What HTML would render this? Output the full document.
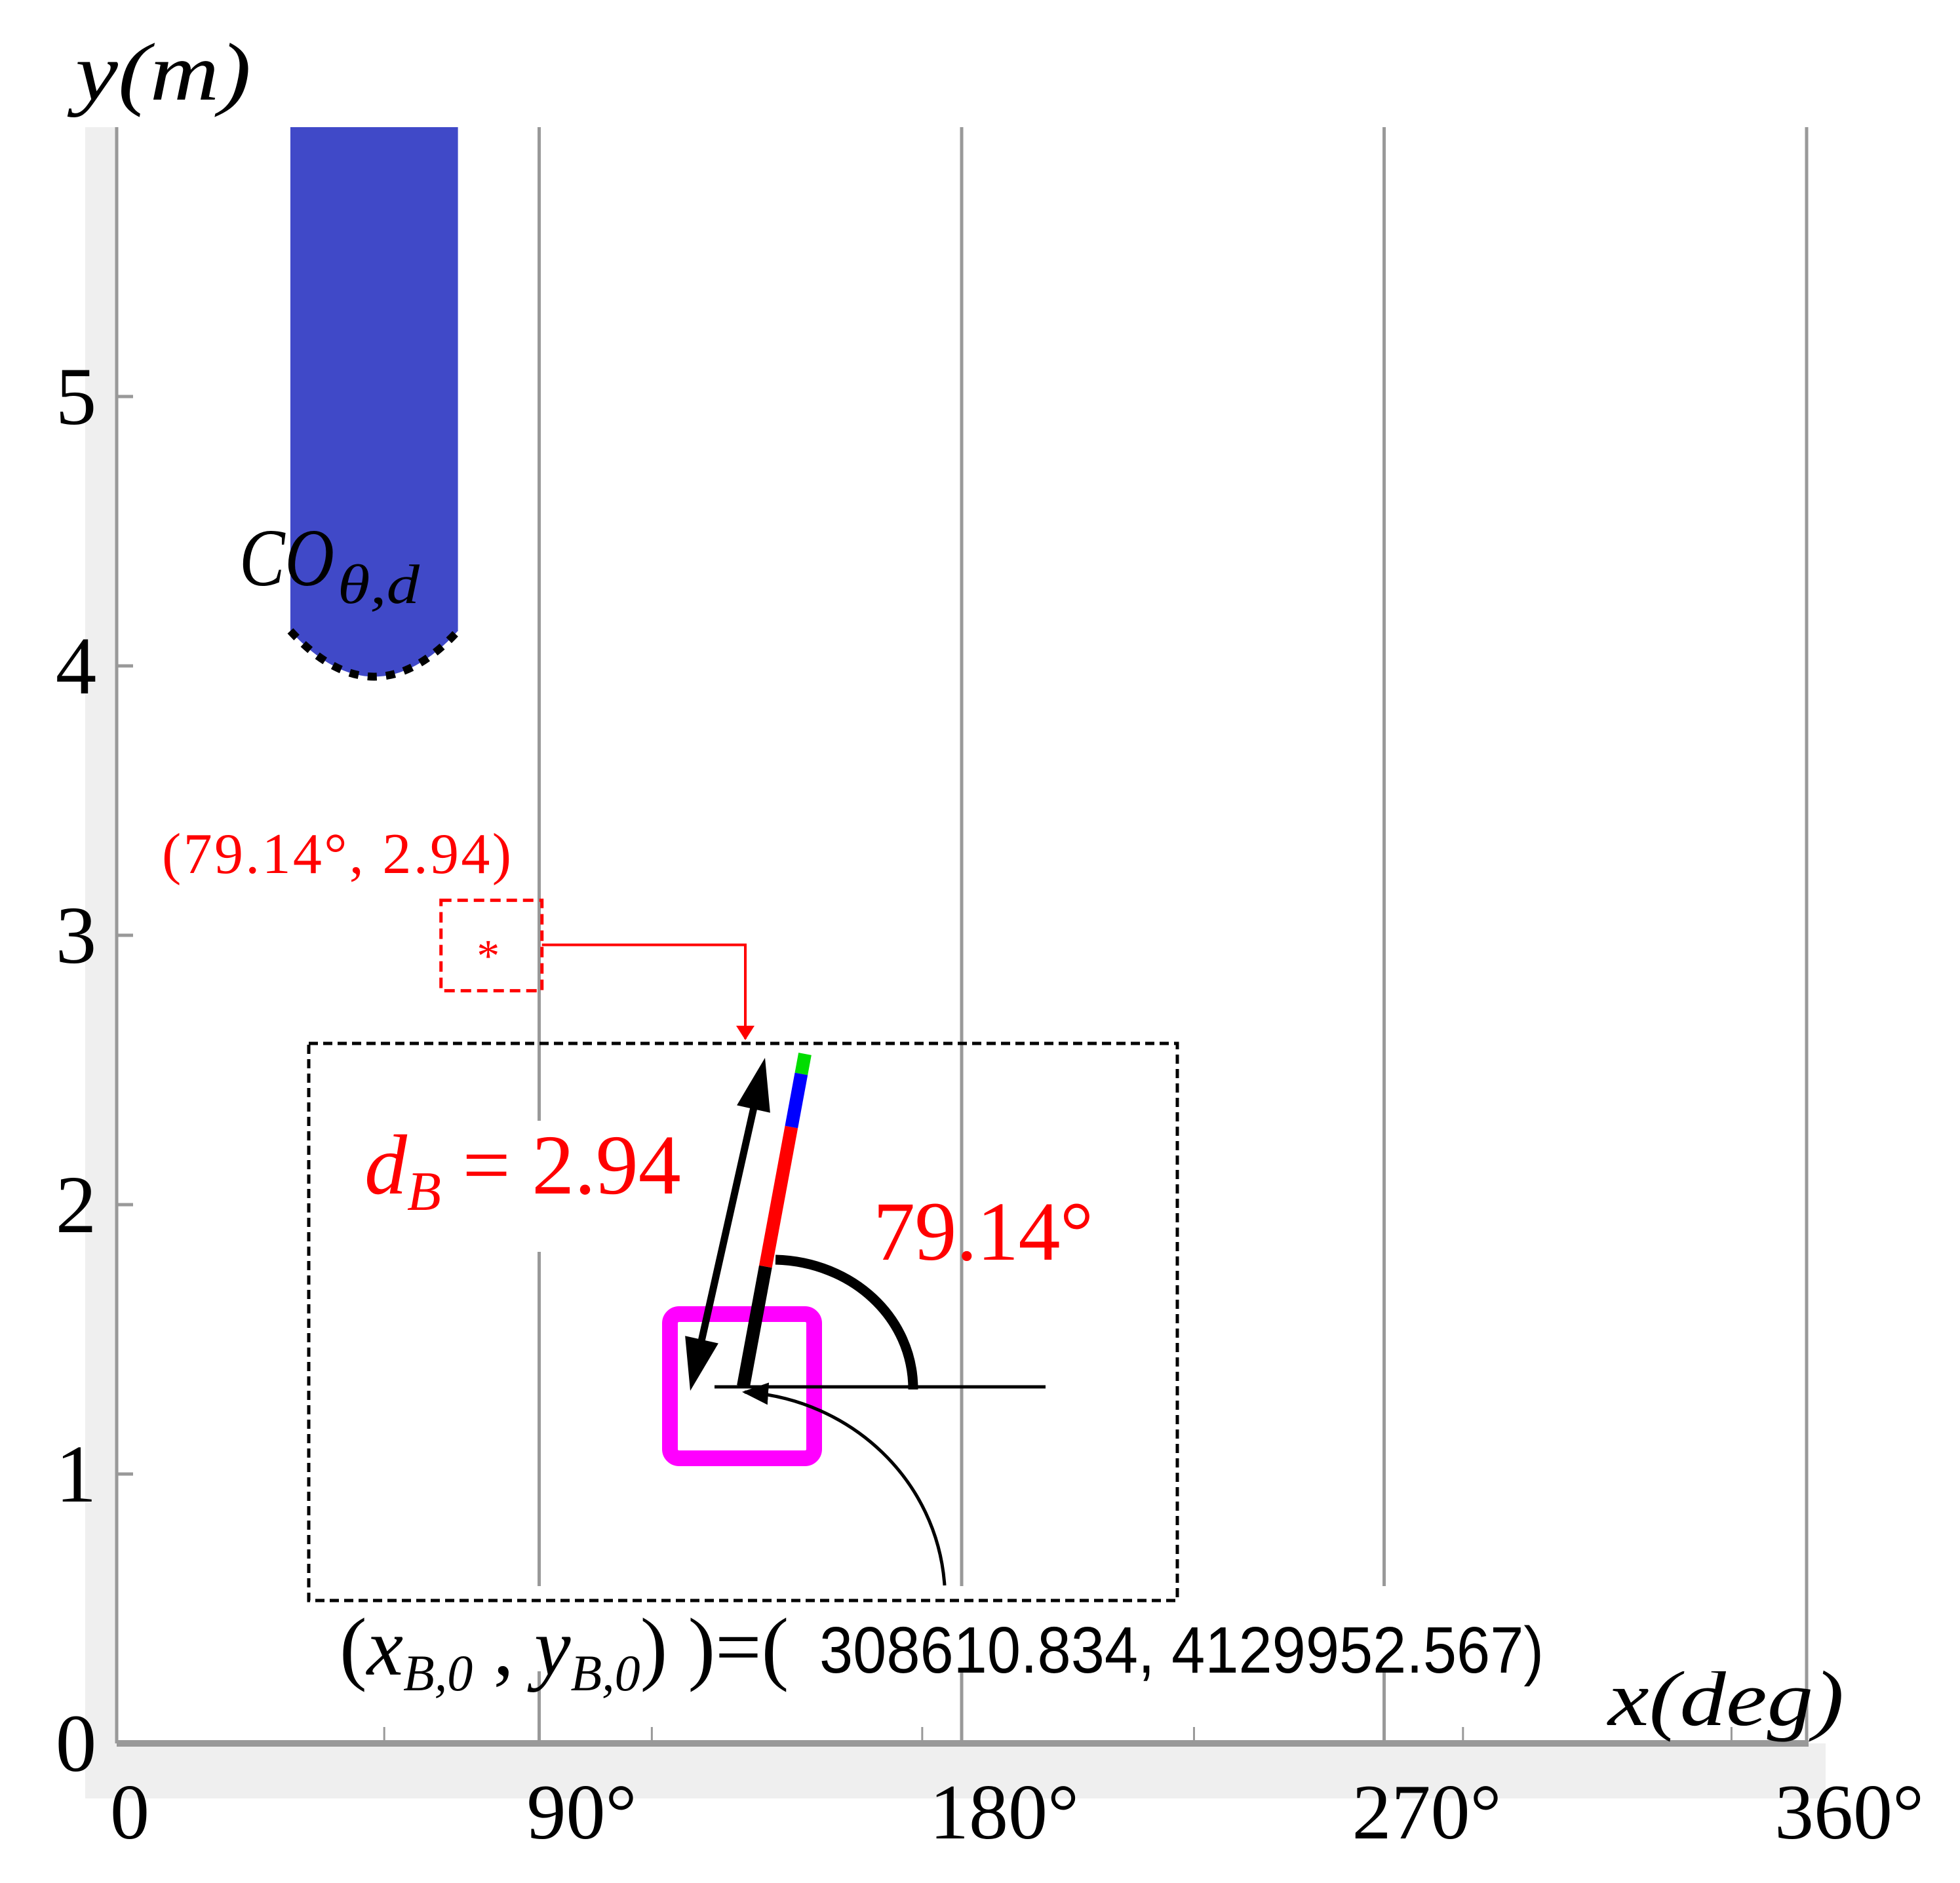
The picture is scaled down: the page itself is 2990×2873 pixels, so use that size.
<!DOCTYPE html>
<html><head><meta charset="utf-8"><style>
html,body{margin:0;padding:0;background:#fff;}
svg{display:block;}
text{font-family:"Liberation Serif","DejaVu Serif",serif;}
text.sans{font-family:"Liberation Sans Narrow","Liberation Sans",sans-serif;}
</style></head><body>
<svg id="chart" width="2990" height="2873" viewBox="0 0 2990 2873" xmlns="http://www.w3.org/2000/svg">
<defs>
<marker id="ahr" markerWidth="22" markerHeight="28" refX="20" refY="14" orient="auto" markerUnits="userSpaceOnUse"><path d="M0,0 L22,14 L0,28 Z" fill="#f00"/></marker>
<marker id="ahs" markerWidth="40" markerHeight="34" refX="36" refY="17" orient="auto" markerUnits="userSpaceOnUse"><path d="M0,0 L40,17 L0,34 Z" fill="#000"/></marker>
</defs>
<g id="bg">
<rect x="130" y="194" width="48" height="2550" fill="#efefef"/>
<rect x="130" y="2660" width="2655" height="84" fill="#efefef"/>
<rect x="178" y="194" width="2595" height="2466" fill="#fff"/>
</g>
<g id="grid"></g>
<g id="axes"></g>
<g id="marks"></g>
</svg>
<script>
const xTicks = [0, 90, 180, 270, 360];
const xTickLabels = ["0", "90°", "180°", "270°", "360°"];
const xMinorTicks = [57, 114, 171.6, 229.5, 286.8, 344];
const yTicks = [0, 1, 2, 3, 4, 5];
const yTickLabels = ["0", "1", "2", "3", "4", "5"];
const pointX = [79.14];
const pointY = [2.94];
const obstacleX = [37, 72.7];
const obstacleY = [4.13, 3.96, 6];

const NS = "http://www.w3.org/2000/svg";
const X0 = 178, X1 = 2756, Y0 = 2660, Y1 = 194;
const sx = v => X0 + (v / 360) * (X1 - X0);
const sy = v => Y0 - (v / 6) * (Y0 - Y1);
function mk(tag, attrs, parent, txt) {
  const e = document.createElementNS(NS, tag);
  for (const k in attrs) e.setAttribute(k, attrs[k]);
  if (txt !== undefined) e.textContent = txt;
  parent.appendChild(e);
  return e;
}
const grid = document.getElementById("grid");
const axes = document.getElementById("axes");
const marks = document.getElementById("marks");

xTicks.slice(1).forEach((t) => {
  const l = mk("line", {x1: sx(t), x2: sx(t), y1: Y1, y2: Y0, stroke: "#999", "stroke-width": 5}, grid);
  
  
});
let la = mk("line", {x1: X0, x2: X0, y1: Y1, y2: Y0, stroke: "#999", "stroke-width": 5}, axes);


let ba = mk("line", {x1: X0, x2: X1 + 3, y1: Y0, y2: Y0, stroke: "#999", "stroke-width": 10}, axes);


yTicks.forEach((t, i) => {
  const tk = mk("line", {x1: X0, x2: X0 + 25, y1: sy(t), y2: sy(t), stroke: "#999", "stroke-width": 5}, axes);
  
  
  const lb = mk("text", {x: 116, y: sy(t) + 42, "font-size": 125, "text-anchor": "middle", fill: "#000"}, axes, yTickLabels[i]);
  
  
});
xTicks.forEach((t, i) => {
  const lb = mk("text", {x: sx(t) + (i === 0 ? 20 : 65), y: 2805, "font-size": 120, "text-anchor": "middle", fill: "#000"}, axes, xTickLabels[i]);
  
  
});
xMinorTicks.forEach((t) => {
  const tk = mk("line", {x1: sx(t), x2: sx(t), y1: Y0 - 25, y2: Y0, stroke: "#999", "stroke-width": 3}, axes);
  
  
});
let yt = mk("text", {x: 115, y: 152, "font-size": 125, "font-style": "italic", fill: "#000", textLength: 268, lengthAdjust: "spacingAndGlyphs"}, axes, "y(m)");


let xt = mk("text", {x: 2453, y: 2632, "font-size": 120, "font-style": "italic", fill: "#000", textLength: 360, lengthAdjust: "spacingAndGlyphs"}, axes, "x(deg)");



const ox0 = sx(obstacleX[0]), ox1 = sx(obstacleX[1]), oyS = sy(obstacleY[0]), oyB = sy(obstacleY[1]), oyT = sy(obstacleY[2]);
const ocx = (ox0 + ox1) / 2;
const obs = mk("path", {d: `M${ox0},${oyT} L${ox1},${oyT} L${ox1},${oyS} Q${ocx},${2 * oyB - oyS} ${ox0},${oyS} Z`, fill: "#4049c8"}, marks);


const obd = mk("path", {d: `M${ox0},${oyS} Q${ocx},${2 * oyB - oyS} ${ox1},${oyS}`, fill: "none", stroke: "#000", "stroke-width": 12, "stroke-dasharray": "14 14"}, marks);


const obl = mk("text", {x: 365, y: 893, "font-size": 125, "font-style": "italic", fill: "#000", textLength: 145, lengthAdjust: "spacingAndGlyphs"}, marks, "CO");


const obs2 = mk("text", {x: 515, y: 920, "font-size": 85, "font-style": "italic", fill: "#000", textLength: 125, lengthAdjust: "spacingAndGlyphs"}, marks, "θ,d");



pointX.forEach((v, i) => {
  const px = sx(v), py = sy(pointY[i]);
  const st = mk("text", {x: px, y: py + 30, "font-size": 70, "text-anchor": "middle", fill: "#f00"}, marks, "*");
  
  
  const bx = mk("rect", {x: px - 72, y: py - 78, width: 154, height: 138, fill: "none", stroke: "#f00", "stroke-width": 5, "stroke-dasharray": "16 9"}, marks);
  
  
  const pl = mk("text", {x: 247, y: 1332, "font-size": 88, fill: "#f00", textLength: 533}, marks, "(79.14°, 2.94)");
  
  
  const cn = mk("path", {d: `M${px + 82},${py - 10} L1137,${py - 10} L1137,1585`, fill: "none", stroke: "#f00", "stroke-width": 4, "marker-end": "url(#ahr)"}, marks);
  
  
});

const wb = mk("rect", {x: 480, y: 2420, width: 2270, height: 130, fill: "#fff"}, marks);


const wb2 = mk("rect", {x: 800, y: 1710, width: 50, height: 200, fill: "#fff"}, marks);


const ins = mk("rect", {x: 471, y: 1592, width: 1325, height: 850, fill: "none", stroke: "#000", "stroke-width": 5, "stroke-dasharray": "14 8"}, marks);



const sq = mk("rect", {x: 1022, y: 2005, width: 220, height: 220, rx: 14, fill: "none", stroke: "#f0f", "stroke-width": 24}, marks);


const segs = [["#000", 0, 0.36], ["#f00", 0.36, 0.78], ["#00f", 0.78, 0.94], ["#0d0", 0.94, 1]];
const ax = 1134, ay = 2115, bx2 = 1228, by2 = 1608;
segs.forEach(s => {
  const l = mk("line", {x1: ax + (bx2 - ax) * s[1], y1: ay + (by2 - ay) * s[1], x2: ax + (bx2 - ax) * s[2], y2: ay + (by2 - ay) * s[2], stroke: s[0], "stroke-width": 20}, marks);
  
  
});
const hl = mk("line", {x1: 1090, y1: 2116, x2: 1595, y2: 2116, stroke: "#000", "stroke-width": 5}, marks);


const ta = mk("path", {d: "M1183,1922 C1300,1925 1393,2010 1393,2120", fill: "none", stroke: "#000", "stroke-width": 15}, marks);


// double arrow with explicit heads
const A = [1053, 2122], B = [1167, 1614];
const dx = B[0] - A[0], dy = B[1] - A[1], L = Math.hypot(dx, dy), ux = dx / L, uy = dy / L, nx = -uy, ny = ux;
const HL = 80, HW = 26;
const da = mk("line", {x1: A[0] + ux * 50, y1: A[1] + uy * 50, x2: B[0] - ux * 50, y2: B[1] - uy * 50, stroke: "#000", "stroke-width": 11}, marks);


[[B, 1], [A, -1]].forEach(([P, s]) => {
  const bxp = P[0] - s * ux * HL, byp = P[1] - s * uy * HL;
  const h = mk("polygon", {points: `${P[0]},${P[1]} ${bxp + nx * HW},${byp + ny * HW} ${bxp - nx * HW},${byp - ny * HW}`, fill: "#000"}, marks);
  
  
});
const ca = mk("path", {d: "M1441,2419 C1430,2260 1300,2135 1136,2124", fill: "none", stroke: "#000", "stroke-width": 5, "marker-end": "url(#ahs)"}, marks);



const db = mk("text", {x: 556, y: 1821, "font-size": 130, fill: "#f00"}, marks);


db.innerHTML = '<tspan font-style="italic">d</tspan><tspan font-style="italic" font-size="85" dy="25">B</tspan><tspan dy="-25"> = 2.94</tspan>';
const an = mk("text", {x: 1332, y: 1922, "font-size": 128, fill: "#f00", textLength: 336}, marks, "79.14°");


const og = mk("text", {x: 518, y: 2555, "font-size": 125, fill: "#000"}, marks);


og.innerHTML = '(<tspan font-style="italic">x</tspan><tspan font-style="italic" font-size="78" dy="24">B,0</tspan><tspan dy="-24"> , </tspan><tspan font-style="italic">y</tspan><tspan font-style="italic" font-size="78" dy="24">B,0</tspan><tspan dy="-24">) )=(</tspan>';
const og2 = mk("text", {x: 1250, y: 2552, "font-size": 100, fill: "#000", textLength: 1105, lengthAdjust: "spacingAndGlyphs", class: "sans"}, marks, "308610.834, 4129952.567)");


</script>
</body></html>
